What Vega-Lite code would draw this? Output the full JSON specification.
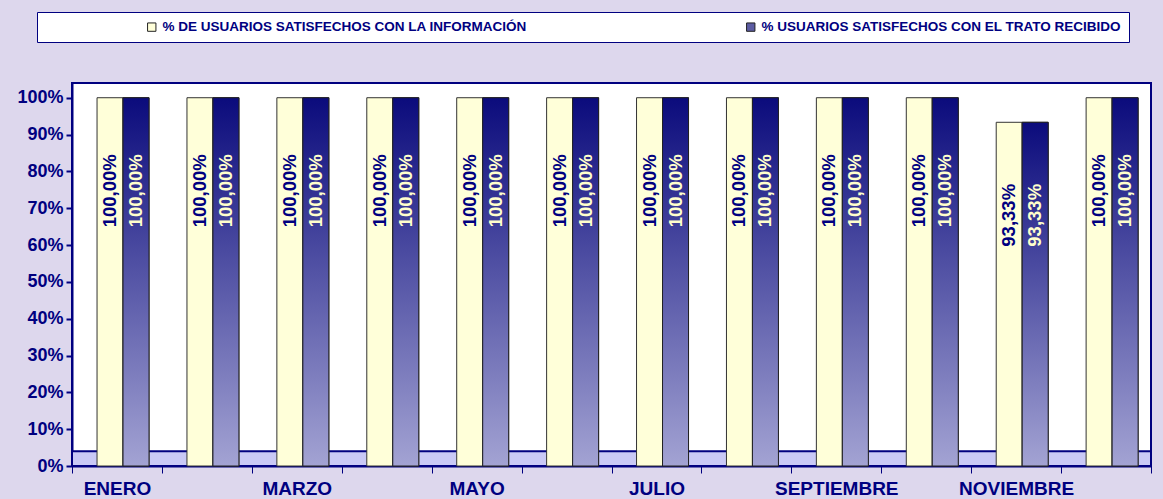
{
  "$schema": "https://vega.github.io/schema/vega-lite/v6.json",
  "width": 1163,
  "height": 499,
  "autosize": {"type": "fit", "contains": "padding"},
  "padding": {"left": 16, "right": 11, "top": 83, "bottom": 1},
  "background": "#ddd7ed",
  "config": {
    "locale": {"number": {"decimal": ",", "thousands": ".", "grouping": [3], "currency": ["", " €"]}},
    "font": "Liberation Sans",
    "view": {"fill": "white", "stroke": "#000080", "strokeWidth": 2},
    "axisY": {
      "labelFont": "Liberation Sans", "labelFontSize": 18, "labelFontWeight": "bold", "labelColor": "#000080",
      "tickColor": "#000080", "tickSize": 6, "tickWidth": 2, "domainColor": "#000080", "domainWidth": 2,
      "grid": false, "labelPadding": 3, "labelOverlap": false, "format": ".0%", "title": null
    }
  },
  "data": {
    "values": [
      {"mes": "ENERO", "serie": "% DE USUARIOS SATISFECHOS CON LA INFORMACIÓN", "v": 1.0},
      {"mes": "ENERO", "serie": "% USUARIOS SATISFECHOS CON EL TRATO RECIBIDO", "v": 1.0},
      {"mes": "FEBRERO", "serie": "% DE USUARIOS SATISFECHOS CON LA INFORMACIÓN", "v": 1.0},
      {"mes": "FEBRERO", "serie": "% USUARIOS SATISFECHOS CON EL TRATO RECIBIDO", "v": 1.0},
      {"mes": "MARZO", "serie": "% DE USUARIOS SATISFECHOS CON LA INFORMACIÓN", "v": 1.0},
      {"mes": "MARZO", "serie": "% USUARIOS SATISFECHOS CON EL TRATO RECIBIDO", "v": 1.0},
      {"mes": "ABRIL", "serie": "% DE USUARIOS SATISFECHOS CON LA INFORMACIÓN", "v": 1.0},
      {"mes": "ABRIL", "serie": "% USUARIOS SATISFECHOS CON EL TRATO RECIBIDO", "v": 1.0},
      {"mes": "MAYO", "serie": "% DE USUARIOS SATISFECHOS CON LA INFORMACIÓN", "v": 1.0},
      {"mes": "MAYO", "serie": "% USUARIOS SATISFECHOS CON EL TRATO RECIBIDO", "v": 1.0},
      {"mes": "JUNIO", "serie": "% DE USUARIOS SATISFECHOS CON LA INFORMACIÓN", "v": 1.0},
      {"mes": "JUNIO", "serie": "% USUARIOS SATISFECHOS CON EL TRATO RECIBIDO", "v": 1.0},
      {"mes": "JULIO", "serie": "% DE USUARIOS SATISFECHOS CON LA INFORMACIÓN", "v": 1.0},
      {"mes": "JULIO", "serie": "% USUARIOS SATISFECHOS CON EL TRATO RECIBIDO", "v": 1.0},
      {"mes": "AGOSTO", "serie": "% DE USUARIOS SATISFECHOS CON LA INFORMACIÓN", "v": 1.0},
      {"mes": "AGOSTO", "serie": "% USUARIOS SATISFECHOS CON EL TRATO RECIBIDO", "v": 1.0},
      {"mes": "SEPTIEMBRE", "serie": "% DE USUARIOS SATISFECHOS CON LA INFORMACIÓN", "v": 1.0},
      {"mes": "SEPTIEMBRE", "serie": "% USUARIOS SATISFECHOS CON EL TRATO RECIBIDO", "v": 1.0},
      {"mes": "OCTUBRE", "serie": "% DE USUARIOS SATISFECHOS CON LA INFORMACIÓN", "v": 1.0},
      {"mes": "OCTUBRE", "serie": "% USUARIOS SATISFECHOS CON EL TRATO RECIBIDO", "v": 1.0},
      {"mes": "NOVIEMBRE", "serie": "% DE USUARIOS SATISFECHOS CON LA INFORMACIÓN", "v": 0.9333},
      {"mes": "NOVIEMBRE", "serie": "% USUARIOS SATISFECHOS CON EL TRATO RECIBIDO", "v": 0.9333},
      {"mes": "DICIEMBRE", "serie": "% DE USUARIOS SATISFECHOS CON LA INFORMACIÓN", "v": 1.0},
      {"mes": "DICIEMBRE", "serie": "% USUARIOS SATISFECHOS CON EL TRATO RECIBIDO", "v": 1.0}
    ]
  },
  "resolve": {"scale": {"color": "independent"}},
  "layer": [
    {
      "data": {"values": [{"floor": "suelo"}]},
      "mark": {"type": "rect", "fill": "#c9c9f6", "stroke": "#000080", "strokeWidth": 2},
      "encoding": {
        "y": {"datum": 0, "type": "quantitative", "title": null,
          "scale": {"domain": [0, 1.04], "nice": false},
          "axis": {"values": [0, 0.1, 0.2, 0.3, 0.4, 0.5, 0.6, 0.7, 0.8, 0.9, 1.0], "format": ".0%", "labelOverlap": false}},
        "y2": {"datum": 0.04}
      }
    },
    {
      "mark": {"type": "bar", "stroke": "#333333", "strokeWidth": 1},
      "encoding": {
        "x": {
          "field": "mes", "type": "nominal", "sort": null, "title": null,
          "scale": {"paddingInner": 0, "paddingOuter": 0},
          "axis": {
            "labelAngle": 0, "labelFont": "Liberation Sans", "labelFontSize": 19, "labelFontWeight": "bold",
            "labelColor": "#000080", "tickBand": "extent", "tickColor": "#000080", "tickSize": 7,
            "domainColor": "#000080", "domainWidth": 2, "labelPadding": 6, "labelOverlap": false,
            "labelExpr": "indexof(['ENERO','MARZO','MAYO','JULIO','SEPTIEMBRE','NOVIEMBRE'], datum.value) >= 0 ? datum.value : ''"
          }
        },
        "xOffset": {"field": "serie", "type": "nominal", "sort": null,
          "scale": {"paddingInner": 0, "paddingOuter": 0.73, "align": 0.66}},
        "y": {
          "field": "v", "type": "quantitative", "title": null,
          "axis": {"values": [0, 0.1, 0.2, 0.3, 0.4, 0.5, 0.6, 0.7, 0.8, 0.9, 1.0], "format": ".0%", "labelOverlap": false}
        },
        "color": {
          "field": "serie", "type": "nominal", "sort": null, "title": null,
          "scale": {"range": ["#ffffd9", "#5c5ca2"]},
          "legend": {
            "orient": "none", "legendX": -35, "legendY": -71, "direction": "horizontal",
            "fillColor": "white", "strokeColor": "#000080", "padding": 8,
            "labelFont": "Liberation Sans", "labelFontSize": 13.5, "labelFontWeight": "bold", "labelColor": "#000080",
            "labelLimit": 600, "columnPadding": 117, "symbolType": "square", "symbolSize": 70,
            "symbolStrokeColor": "#222222", "symbolStrokeWidth": 1, "symbolOffset": 100, "labelOffset": 4
          }
        }
      }
    },
    {
      "transform": [{"filter": "datum.serie == '% USUARIOS SATISFECHOS CON EL TRATO RECIBIDO'"}],
      "mark": {
        "type": "bar", "stroke": "#222222", "strokeWidth": 1,
        "fill": {"gradient": "linear", "x1": 0, "y1": 0, "x2": 0, "y2": 1,
          "stops": [{"offset": 0, "color": "#0b0b7c"}, {"offset": 1, "color": "#a3a3d3"}]}
      },
      "encoding": {
        "x": {"field": "mes", "type": "nominal", "sort": null},
        "xOffset": {"field": "serie", "type": "nominal", "sort": null},
        "y": {"field": "v", "type": "quantitative", "title": null,
          "axis": {"values": [0, 0.1, 0.2, 0.3, 0.4, 0.5, 0.6, 0.7, 0.8, 0.9, 1.0], "format": ".0%", "labelOverlap": false}}
      }
    },
    {
      "mark": {"type": "text", "angle": 270, "align": "center", "baseline": "middle", "dx": -93,
        "font": "Liberation Sans", "fontSize": 18.5, "fontWeight": "bold"},
      "encoding": {
        "x": {"field": "mes", "type": "nominal", "sort": null},
        "xOffset": {"field": "serie", "type": "nominal", "sort": null},
        "y": {"field": "v", "type": "quantitative", "title": null,
          "axis": {"values": [0, 0.1, 0.2, 0.3, 0.4, 0.5, 0.6, 0.7, 0.8, 0.9, 1.0], "format": ".0%", "labelOverlap": false}},
        "text": {"field": "v", "type": "quantitative", "format": ".2%"},
        "color": {"field": "serie", "type": "nominal", "sort": null, "legend": null,
          "scale": {"range": ["#000080", "#ffffcc"]}}
      }
    }
  ]
}
